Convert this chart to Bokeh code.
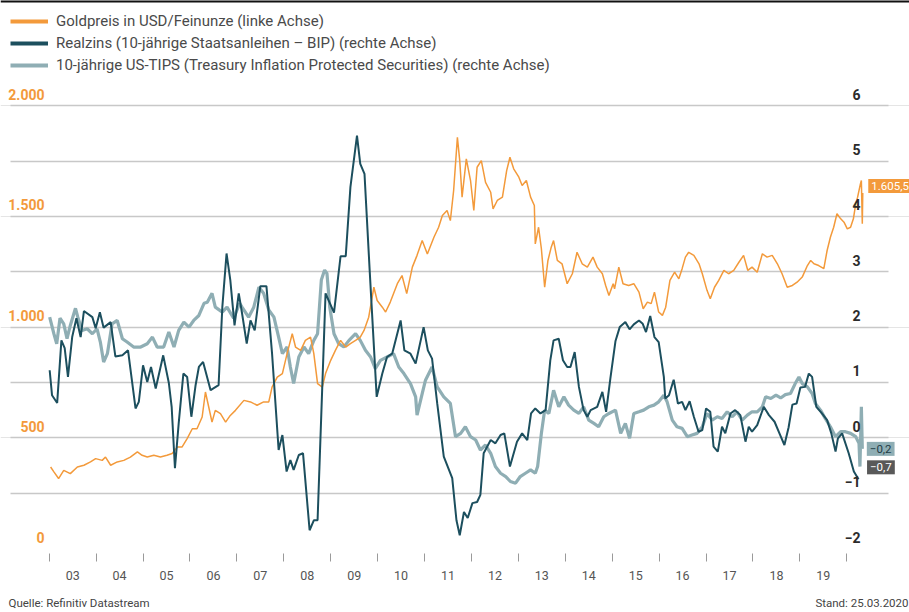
from bokeh.plotting import figure
from bokeh.layouts import column
from bokeh.models import Range1d, FixedTicker, Grid, Legend, LegendItem, Label, Span
from bokeh.core.properties import value
from bokeh.embed import file_html
from bokeh.resources import INLINE

# ---------------- data (decimal years) ----------------
gold_t = [2003.03, 2003.10, 2003.20, 2003.31, 2003.45, 2003.60, 2003.74, 2003.88, 2003.99, 2004.13,
          2004.20, 2004.31, 2004.45, 2004.59, 2004.73, 2004.88, 2004.98, 2005.09, 2005.23, 2005.37,
          2005.51, 2005.62, 2005.73, 2005.83, 2005.94, 2006.05, 2006.15, 2006.26, 2006.33, 2006.40,
          2006.47, 2006.54, 2006.65, 2006.76, 2006.86, 2006.97, 2007.15, 2007.29, 2007.43, 2007.57,
          2007.68, 2007.75, 2007.86, 2007.97, 2008.07, 2008.18, 2008.25, 2008.36, 2008.46, 2008.57,
          2008.64, 2008.72, 2008.82, 2008.89, 2009.00, 2009.10, 2009.21, 2009.32, 2009.42, 2009.53,
          2009.63, 2009.71, 2009.81, 2009.92, 2009.99, 2010.10, 2010.17, 2010.27, 2010.42, 2010.52,
          2010.62, 2010.74, 2010.84, 2010.95, 2011.06, 2011.20, 2011.30, 2011.38, 2011.48, 2011.55,
          2011.62, 2011.70, 2011.75, 2011.80, 2011.89, 2011.98, 2012.05, 2012.12, 2012.21, 2012.30,
          2012.41, 2012.46, 2012.55, 2012.66, 2012.75, 2012.82, 2012.90, 2013.01, 2013.08, 2013.17,
          2013.26, 2013.34, 2013.36, 2013.43, 2013.49, 2013.56, 2013.63, 2013.70, 2013.75, 2013.83,
          2013.93, 2014.04, 2014.15, 2014.25, 2014.36, 2014.47, 2014.59, 2014.68, 2014.79, 2014.86,
          2014.93, 2015.02, 2015.05, 2015.14, 2015.23, 2015.35, 2015.46, 2015.57, 2015.66, 2015.75,
          2015.83, 2015.90, 2015.99, 2016.07, 2016.14, 2016.23, 2016.33, 2016.42, 2016.49, 2016.56,
          2016.63, 2016.74, 2016.85, 2016.92, 2017.02, 2017.09, 2017.18, 2017.27, 2017.38, 2017.48,
          2017.59, 2017.70, 2017.80, 2017.89, 2017.98, 2018.09, 2018.20, 2018.30, 2018.41, 2018.52,
          2018.62, 2018.73, 2018.84, 2018.94, 2019.05, 2019.16, 2019.23, 2019.30, 2019.40, 2019.51,
          2019.58, 2019.65, 2019.72, 2019.79, 2019.87, 2019.94, 2020.01, 2020.08, 2020.14, 2020.19,
          2020.23, 2020.29, 2020.31, 2020.33, 2020.34]
gold_v = [368, 346, 316, 353, 338, 368, 376, 391, 406, 398,
          413, 376, 391, 398, 413, 436, 421, 413, 421, 413,
          421, 429, 458, 458, 496, 541, 541, 594, 707, 639,
          571, 624, 609, 571, 601, 624, 669, 662, 647, 662,
          662, 729, 774, 790, 880, 970, 910, 895, 940, 955,
          880, 745, 729, 790, 850, 895, 940, 910, 925, 940,
          955, 985, 1045, 1180, 1120, 1090, 1068, 1113, 1196, 1233,
          1151, 1271, 1324, 1391, 1330, 1406, 1451, 1504, 1527, 1481,
          1617, 1857, 1752, 1587, 1760, 1662, 1527, 1722, 1752, 1654,
          1609, 1534, 1572, 1587, 1707, 1767, 1715, 1677, 1640, 1662,
          1587, 1549, 1376, 1451, 1354, 1180, 1301, 1361, 1391, 1301,
          1286, 1196, 1241, 1338, 1286, 1271, 1316, 1271, 1241, 1188,
          1143, 1196, 1173, 1271, 1196, 1188, 1196, 1158, 1083, 1113,
          1106, 1158, 1068, 1053, 1090, 1211, 1248, 1218, 1264, 1316,
          1338, 1324, 1286, 1241, 1166, 1128, 1180, 1211, 1256, 1241,
          1256, 1293, 1324, 1256, 1271, 1248, 1331, 1316, 1324, 1286,
          1241, 1180, 1188, 1203, 1226, 1278, 1301, 1286, 1278, 1264,
          1346, 1406, 1451, 1512, 1489, 1474, 1444, 1451, 1489, 1557,
          1587, 1647, 1662, 1467, 1605.5]

real_t = [2003.01, 2003.06, 2003.17, 2003.26, 2003.33, 2003.40, 2003.49, 2003.58, 2003.67, 2003.74,
          2003.92, 2003.99, 2004.08, 2004.16, 2004.31, 2004.41, 2004.56, 2004.68, 2004.84, 2004.91,
          2005.00, 2005.09, 2005.17, 2005.27, 2005.43, 2005.55, 2005.61, 2005.68, 2005.76, 2005.86,
          2005.94, 2006.03, 2006.12, 2006.19, 2006.28, 2006.44, 2006.61, 2006.69, 2006.78, 2006.86,
          2006.95, 2007.04, 2007.11, 2007.21, 2007.29, 2007.38, 2007.50, 2007.63, 2007.75, 2007.89,
          2007.97, 2008.06, 2008.14, 2008.21, 2008.32, 2008.41, 2008.55, 2008.64, 2008.72, 2008.89,
          2009.07, 2009.21, 2009.32, 2009.42, 2009.56, 2009.63, 2009.72, 2009.83, 2009.98, 2010.10,
          2010.20, 2010.31, 2010.49, 2010.57, 2010.70, 2010.81, 2010.98, 2011.07, 2011.16, 2011.27,
          2011.41, 2011.59, 2011.68, 2011.75, 2011.84, 2011.92, 2012.02, 2012.12, 2012.19, 2012.26,
          2012.41, 2012.51, 2012.62, 2012.70, 2012.82, 2012.97, 2013.08, 2013.19, 2013.27, 2013.36,
          2013.47, 2013.58, 2013.68, 2013.75, 2013.86, 2013.95, 2014.04, 2014.11, 2014.20, 2014.29,
          2014.39, 2014.47, 2014.54, 2014.68, 2014.79, 2014.87, 2014.96, 2015.07, 2015.16, 2015.28,
          2015.37, 2015.46, 2015.57, 2015.65, 2015.72, 2015.81, 2015.90, 2015.99, 2016.10, 2016.13,
          2016.21, 2016.31, 2016.40, 2016.49, 2016.56, 2016.65, 2016.74, 2016.84, 2016.92, 2017.00,
          2017.09, 2017.16, 2017.25, 2017.34, 2017.41, 2017.52, 2017.62, 2017.73, 2017.84, 2017.91,
          2017.98, 2018.09, 2018.23, 2018.34, 2018.46, 2018.58, 2018.67, 2018.76, 2018.84, 2018.93,
          2019.01, 2019.11, 2019.19, 2019.26, 2019.35, 2019.47, 2019.58, 2019.67, 2019.76, 2019.81,
          2019.90, 2020.04, 2020.15, 2020.25]
real_v = [1.22, 0.77, 0.63, 1.76, 1.62, 1.10, 1.82, 2.16, 1.82, 2.29,
          2.18, 1.98, 2.27, 1.99, 2.09, 1.47, 1.49, 1.58, 0.53, 0.65,
          1.31, 1.01, 1.28, 0.89, 1.49, 0.99, 0.56, -0.55, 0.26, 1.16,
          1.10, 0.38, 0.95, 1.28, 1.37, 0.86, 0.95, 2.36, 3.33, 2.85,
          2.03, 2.61, 2.25, 1.70, 2.12, 1.94, 2.74, 2.74, 1.52, -0.22,
          0.05, -0.61, -0.40, -0.58, -0.31, -0.28, -1.67, -1.49, -1.49, 2.61,
          2.26, 3.28, 3.28, 4.53, 5.46, 4.95, 4.77, 3.03, 0.74, 1.16,
          1.46, 1.52, 2.12, 1.58, 1.52, 1.34, 2.00, 1.58, 1.43, 0.62,
          -0.34, -0.73, -1.49, -1.76, -1.34, -1.45, -1.18, -1.16, -1.03, -0.28,
          -0.04, -0.10, 0.05, 0.08, -0.52, -0.07, 0.08, -0.04, 0.44, 0.53,
          0.44, 0.50, 1.40, 1.76, 1.79, 1.40, 1.28, 1.28, 1.55, 0.92,
          0.50, 0.38, 0.50, 0.56, 0.83, 0.47, 1.07, 1.75, 2.00, 2.09,
          1.96, 2.05, 2.12, 2.06, 1.91, 2.20, 1.82, 1.73, 1.10, 0.71,
          0.77, 1.05, 0.62, 0.65, 0.50, 0.66, 0.38, 0.11, 0.14, 0.53,
          0.47, -0.16, -0.25, 0.20, 0.08, 0.44, 0.50, 0.41, -0.07, 0.20,
          0.11, 0.23, 0.56, 0.41, 0.29, 0.05, -0.13, 0.19, 0.60, 0.62,
          0.91, 0.92, 1.16, 1.10, 0.56, 0.44, 0.32, 0.08, -0.25, -0.01,
          0.08, -0.28, -0.61, -0.75]

tips_t = [2003.01, 2003.10, 2003.16, 2003.23, 2003.31, 2003.38, 2003.45, 2003.56, 2003.61, 2003.70,
          2003.81, 2003.92, 2004.02, 2004.09, 2004.16, 2004.24, 2004.34, 2004.45, 2004.56, 2004.66,
          2004.80, 2004.95, 2005.09, 2005.20, 2005.30, 2005.44, 2005.55, 2005.66, 2005.76, 2005.87,
          2005.98, 2006.08, 2006.19, 2006.30, 2006.37, 2006.47, 2006.54, 2006.69, 2006.79, 2006.93,
          2007.06, 2007.11, 2007.25, 2007.36, 2007.47, 2007.57, 2007.68, 2007.79, 2007.89, 2007.97,
          2008.07, 2008.14, 2008.21, 2008.32, 2008.43, 2008.53, 2008.64, 2008.72, 2008.80, 2008.87,
          2008.92, 2008.98, 2009.07, 2009.17, 2009.28, 2009.39, 2009.53, 2009.63, 2009.74, 2009.85,
          2009.95, 2010.06, 2010.20, 2010.34, 2010.45, 2010.56, 2010.70, 2010.81, 2010.84, 2010.95,
          2011.02, 2011.16, 2011.27, 2011.41, 2011.55, 2011.66, 2011.77, 2011.87, 2011.98, 2012.09,
          2012.19, 2012.30, 2012.41, 2012.51, 2012.62, 2012.73, 2012.83, 2012.94, 2013.04, 2013.15,
          2013.26, 2013.36, 2013.41, 2013.49, 2013.56, 2013.65, 2013.75, 2013.86, 2013.97, 2014.07,
          2014.18, 2014.29, 2014.39, 2014.50, 2014.61, 2014.71, 2014.82, 2014.93, 2015.07, 2015.18,
          2015.28, 2015.37, 2015.46, 2015.57, 2015.67, 2015.78, 2015.89, 2015.99, 2016.10, 2016.17,
          2016.28, 2016.38, 2016.49, 2016.60, 2016.70, 2016.81, 2016.92, 2017.02, 2017.13, 2017.24,
          2017.34, 2017.45, 2017.56, 2017.66, 2017.77, 2017.88, 2017.98, 2018.09, 2018.20, 2018.27,
          2018.38, 2018.49, 2018.59, 2018.69, 2018.80, 2018.90, 2018.98, 2019.05, 2019.16, 2019.26,
          2019.33, 2019.44, 2019.54, 2019.65, 2019.76, 2019.87, 2019.97, 2020.08, 2020.19, 2020.26,
          2020.28, 2020.31, 2020.33]
tips_v = [2.18, 1.88, 1.70, 2.16, 2.06, 1.79, 2.03, 2.34, 2.18, 1.94,
          1.97, 1.88, 1.97, 1.73, 1.37, 1.52, 2.06, 2.12, 1.79, 1.73,
          1.64, 1.64, 1.70, 1.82, 1.64, 1.64, 1.91, 1.64, 1.94, 2.09,
          2.00, 2.12, 2.21, 2.43, 2.45, 2.61, 2.36, 2.27, 2.36, 2.16,
          2.43, 2.36, 2.18, 2.36, 2.72, 2.61, 2.31, 2.18, 1.82, 1.52,
          1.64, 1.28, 0.98, 1.46, 1.64, 1.52, 1.76, 1.88, 2.85, 3.03,
          2.97, 2.36, 1.88, 1.70, 1.64, 1.76, 1.88, 1.76, 1.58, 1.46,
          1.25, 1.40, 1.46, 1.52, 1.28, 1.16, 0.98, 0.74, 0.41, 0.80,
          1.04, 1.28, 0.92, 0.74, 0.62, 0.02, 0.08, 0.20, 0.02, -0.04,
          -0.22, -0.13, -0.28, -0.52, -0.64, -0.70, -0.79, -0.82, -0.70, -0.64,
          -0.58, -0.64, -0.52, 0.08, 0.50, 0.44, 0.86, 0.56, 0.74, 0.59,
          0.50, 0.44, 0.56, 0.32, 0.26, 0.20, 0.38, 0.44, 0.50, 0.08,
          0.26, -0.01, 0.44, 0.47, 0.50, 0.56, 0.59, 0.65, 0.77, 0.65,
          0.32, 0.20, 0.17, 0.02, 0.05, 0.08, 0.20, 0.44, 0.32, 0.38,
          0.35, 0.47, 0.38, 0.47, 0.32, 0.41, 0.47, 0.47, 0.56, 0.74,
          0.71, 0.77, 0.72, 0.78, 0.80, 0.98, 1.10, 0.98, 0.92, 0.80,
          0.62, 0.50, 0.35, 0.20, 0.02, 0.11, 0.11, 0.08, 0.02, -0.10,
          -0.52, 0.56, -0.20]

series_names = ["Goldpreis in USD/Feinunze (linke Achse)",
                "Realzins (10-jährige Staatsanleihen \u2013 BIP) (rechte Achse)",
                "10-jährige US-TIPS (Treasury Inflation Protected Securities) (rechte Achse)"]

gold_ticks = [0, 500, 1000, 1500, 2000]
gold_tick_labels = ["0", "500", "1.000", "1.500", "2.000"]
right_ticks = [-2, -1, 0, 1, 2, 3, 4, 5, 6]
right_tick_labels = ["\u22122", "\u22121", "0", "1", "2", "3", "4", "5", "6"]
years = list(range(2003, 2020))
year_labels = ["03", "04", "05", "06", "07", "08", "09", "10", "11", "12",
               "13", "14", "15", "16", "17", "18", "19"]
year_bounds = list(range(2003, 2021))
real_end_label = "\u22120,7"

source_text = "Quelle: Refinitiv Datastream"
stand_text = "Stand: 25.03.2020"

# ---------------- styling ----------------
GOLD = "#F39A3B"
DARK = "#1C4F5E"
TIPS = "#8FAEB4"
GRID = "#C8C8C8"
FONT = "Roboto"
W = 909

X0, X1 = 2001.962, 2021.336      # frame spans page x 0 .. 909
XGL, XG = 2002.175, 2020.888      # grid lines run from page x 10 to 888
Y0, Y1 = 0, 2475.2                # frame spans page y 0 .. 548
R0, R1 = -2, Y1 / 250 - 2

p = figure(width=W, height=590, x_range=Range1d(X0, X1), y_range=Range1d(Y0, Y1),
           output_backend="svg", toolbar_location=None, y_axis_location=None,
           min_border_left=0, min_border_right=0, min_border_top=0, min_border_bottom=42)
p.extra_y_ranges = {"right": Range1d(R0, R1)}
p.outline_line_color = None
p.xgrid.visible = False

# thin black rule along the top edge
p.add_layout(Span(location=Y1, dimension="width", line_color="#111111", line_width=4))

grid_vals = [(r + 2) * 250 for r in right_ticks]
if "cross_bounds" in Grid.properties():
    grid = Grid(dimension=1, ticker=FixedTicker(ticks=grid_vals), cross_bounds=(XGL, XG),
                grid_line_color=GRID, grid_line_width=1.3)
    p.add_layout(grid, "center")
else:
    p.segment(x0=[XGL] * len(grid_vals), x1=[XG] * len(grid_vals), y0=grid_vals, y1=grid_vals,
              line_color=GRID, line_width=1.3)

ax = p.xaxis[0]
ax.ticker = FixedTicker(ticks=[y + 0.5 for y in years], minor_ticks=year_bounds)
ax.major_label_overrides = {y + 0.5: lab for y, lab in zip(years, year_labels)}
ax.axis_line_color = None
ax.major_tick_line_color = None
ax.major_tick_in = 0
ax.major_tick_out = 0
ax.minor_tick_in = -5
ax.minor_tick_out = 13
ax.minor_tick_line_color = "#9A9A9A"
ax.minor_tick_line_width = 1
ax.major_label_standoff = 9
ax.major_label_text_font = FONT
ax.major_label_text_font_size = "12.5px"
ax.major_label_text_color = "#555555"

# series
r_tips = p.line(tips_t, tips_v, color=TIPS, line_width=3.2, y_range_name="right")
r_gold = p.line(gold_t, gold_v, color=GOLD, line_width=1.5)
r_real = p.line(real_t, real_v, color=DARK, line_width=2, y_range_name="right")

# legend swatches (thicker than the lines; data lies outside the visible range)
off_x = [X0 - 2, X0 - 1]
lg_gold = p.line(off_x, [0, 0], color=GOLD, line_width=4)
lg_real = p.line(off_x, [0, 0], color=DARK, line_width=4)
lg_tips = p.line(off_x, [0, 0], color=TIPS, line_width=4)
legend = Legend(items=[LegendItem(label=series_names[0], renderers=[lg_gold]),
                       LegendItem(label=series_names[1], renderers=[lg_real]),
                       LegendItem(label=series_names[2], renderers=[lg_tips])],
                location=(10, 474), margin=0, padding=0, spacing=4,
                glyph_width=38, glyph_height=18, label_height=18, label_standoff=8,
                label_text_font=FONT, label_text_font_size="15px", label_text_color="#4A4A4A",
                border_line_color=None, background_fill_alpha=0)
p.add_layout(legend)

# axis tick labels placed above the grid lines
p.text(x=[XGL] * len(gold_ticks), y=gold_ticks, text=gold_tick_labels,
       x_offset=34, y_offset=-6, text_align="right", text_baseline="bottom",
       text_font=value(FONT), text_font_size="14px", text_font_style="bold", text_color=GOLD)
p.text(x=[XG] * len(right_ticks), y=right_ticks, text=right_tick_labels, y_range_name="right",
       x_offset=-28, y_offset=-6, text_align="right", text_baseline="bottom",
       text_font=value(FONT), text_font_size="14px", text_font_style="bold", text_color="#2B2B2B")

# end value labels
def de(v, nd=1):
    s = f"{abs(v):,.{nd}f}".replace(",", "X").replace(".", ",").replace("X", ".")
    return ("\u2212" if v < 0 else "") + s

p.add_layout(Label(x=gold_t[-1], y=gold_v[-1], text=de(gold_v[-1]), x_offset=5.5, y_offset=7,
                   text_align="left", text_baseline="middle", text_color="white",
                   text_font=FONT, text_font_size="11.5px", padding=3,
                   background_fill_color=GOLD))
p.add_layout(Label(x=tips_t[-1], y=tips_v[-1], y_range_name="right", text=de(tips_v[-1]),
                   x_offset=4.5, y_offset=0, text_align="left", text_baseline="middle",
                   text_color="#1E3C46", text_font=FONT, text_font_size="11.5px", padding=3,
                   background_fill_color=TIPS))
p.add_layout(Label(x=real_t[-1], y=real_v[-1], y_range_name="right", text=real_end_label,
                   x_offset=8.5, y_offset=12, text_align="left", text_baseline="middle",
                   text_color="white", text_font=FONT, text_font_size="11.5px", padding=3,
                   background_fill_color="#595959"))

# footer
foot = figure(width=W, height=22, x_range=Range1d(0, 1), y_range=Range1d(0, 1),
              output_backend="svg", toolbar_location=None,
              x_axis_location=None, y_axis_location=None, min_border=0)
foot.outline_line_color = None
foot.grid.visible = False
foot.text(x=[0], y=[0.5], text=[source_text], x_offset=8, y_offset=1, text_align="left",
          text_baseline="middle", text_font=value(FONT), text_font_size="11.5px",
          text_color="#444444")
foot.text(x=[1], y=[0.5], text=[stand_text], x_offset=-1, y_offset=1, text_align="right",
          text_baseline="middle", text_font=value(FONT), text_font_size="11.5px",
          text_color="#444444")

layout = column(p, foot, spacing=0)
open("out.html", "w").write(file_html(layout, INLINE))
